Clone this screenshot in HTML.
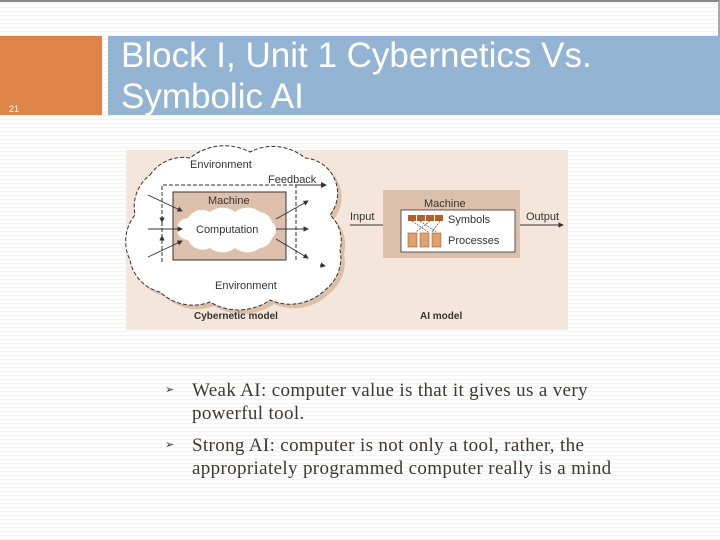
<!DOCTYPE html>
<html><head><style>
body{margin:0;width:720px;height:540px;position:relative;overflow:hidden;background:#fff;
background-image:repeating-linear-gradient(to bottom,#fff 0,#fff 3px,#f3f3f3 3px,#f3f3f3 4px);font-family:"Liberation Sans",sans-serif}
.top{position:absolute;left:0;top:0;width:718px;height:35px;border-top:2px solid #888;border-right:2px solid #aaa}
.or{position:absolute;left:0;top:36px;width:102px;height:79px;background:#df8448}
.num{position:absolute;left:9px;top:104px;font-size:9px;color:#fff}
.bl{position:absolute;left:108px;top:36px;width:612px;height:79px;background:#94b4d4}
.tt{position:absolute;left:121px;top:35px;font-size:35px;line-height:41px;color:#fff}
.b{position:absolute;left:192px;font-family:"Liberation Serif",serif;font-size:19px;letter-spacing:0.35px;line-height:23px;color:#3f3636;white-space:nowrap}
.ar{position:absolute;left:165px;font-size:11px;color:#333}
</style></head><body>
<div class="top"></div>
<div class="or"></div><div class="num">21</div>
<div class="bl"></div>
<div class="tt">Block I, Unit 1 Cybernetics Vs.<br>Symbolic AI</div>
<svg style="position:absolute;left:0;top:0" width="720" height="540" font-family="Liberation Sans,sans-serif">
<defs><marker id="a" markerWidth="6" markerHeight="6" refX="5" refY="3" orient="auto"><path d="M0,0L6,3L0,6z" fill="#333"/></marker></defs>
<rect x="126" y="150" width="442" height="180" fill="#f4e6da"/>
<g transform="translate(4,4)"><path d="M150,175 A40 40 0 0 1 190,158 A55 55 0 0 1 250,152 A50 50 0 0 1 305,158 A35 35 0 0 1 335,180 A35 35 0 0 1 330,215 A35 35 0 0 1 340,250 A40 40 0 0 1 325,290 A50 50 0 0 1 270,300 A55 55 0 0 1 210,302 A48 48 0 0 1 160,292 A40 40 0 0 1 130,260 A42 42 0 0 1 135,215 A40 40 0 0 1 150,175z" fill="#dcbfa8"/></g>
<path d="M150,175 A40 40 0 0 1 190,158 A55 55 0 0 1 250,152 A50 50 0 0 1 305,158 A35 35 0 0 1 335,180 A35 35 0 0 1 330,215 A35 35 0 0 1 340,250 A40 40 0 0 1 325,290 A50 50 0 0 1 270,300 A55 55 0 0 1 210,302 A48 48 0 0 1 160,292 A40 40 0 0 1 130,260 A42 42 0 0 1 135,215 A40 40 0 0 1 150,175z" fill="#fff" stroke="#333" stroke-dasharray="4,2"/>
<rect x="173" y="192" width="113" height="68" fill="#dcc0ac" stroke="#333"/>
<path d="M162,262V185H296V262" fill="none" stroke="#333" stroke-dasharray="4,2"/>
<line x1="296" y1="185" x2="326" y2="185" stroke="#333" marker-end="url(#a)"/>
<path d="M188,218 a16 16 0 0 1 22,-6 a20 20 0 0 1 25,0 a20 20 0 0 1 25,0 a14 14 0 0 1 12,10 a10 10 0 0 1 0,16 a14 14 0 0 1 -12,10 a20 20 0 0 1 -25,0 a20 20 0 0 1 -25,0 a16 16 0 0 1 -22,-8 a10 10 0 0 1 0,-22z" fill="#fff"/>
<g stroke="#333" stroke-width="0.9" marker-end="url(#a)">
<line x1="148" y1="195" x2="182" y2="211"/><line x1="148" y1="229" x2="182" y2="229"/><line x1="148" y1="257" x2="182" y2="241"/>
<line x1="276" y1="219" x2="308" y2="201"/><line x1="276" y1="229" x2="308" y2="229"/><line x1="276" y1="239" x2="308" y2="258"/>
<line x1="162" y1="218" x2="162" y2="222"/><line x1="162" y1="240" x2="162" y2="236"/>
<line x1="320" y1="265" x2="325" y2="266"/>
<line x1="350" y1="225" x2="401" y2="225"/><line x1="515" y1="225" x2="563" y2="225"/>
</g>
<text x="190" y="168" font-size="11" fill="#333">Environment</text>
<text x="268" y="183" font-size="11" fill="#333">Feedback</text>
<text x="208" y="204" font-size="11" fill="#333">Machine</text>
<text x="196" y="233" font-size="11" fill="#333">Computation</text>
<text x="215" y="289" font-size="11" fill="#333">Environment</text>
<rect x="383" y="190" width="137" height="68" fill="#dcc0ac"/>
<rect x="401" y="210" width="114" height="42" fill="#fff" stroke="#333" stroke-width="0.8"/>
<text x="424" y="207" font-size="11" fill="#333">Machine</text>
<text x="350" y="220" font-size="11" fill="#333">Input</text>
<text x="526" y="220" font-size="11" fill="#333">Output</text>
<text x="448" y="223" font-size="11" fill="#333">Symbols</text>
<text x="448" y="244" font-size="11" fill="#333">Processes</text>
<g fill="#b0602a"><rect x="408" y="215" width="8" height="6"/><rect x="417" y="215" width="8" height="6"/><rect x="426" y="215" width="8" height="6"/><rect x="435" y="215" width="8" height="6"/></g>
<g fill="#e0a070" stroke="#a05a28" stroke-width="0.6"><rect x="408" y="233" width="9" height="14"/><rect x="420" y="233" width="9" height="14"/><rect x="432" y="233" width="9" height="14"/></g>
<path d="M412,221L428,232M420,221L436,232M430,221L416,232M440,221L432,232" stroke="#333" stroke-width="0.6" stroke-dasharray="2,1"/>
<text x="194" y="319" font-size="10" font-weight="bold" fill="#333">Cybernetic model</text>
<text x="420" y="319" font-size="10" font-weight="bold" fill="#333">AI model</text>
</svg>
<div class="ar" style="top:383px">➢</div>
<div class="b" style="top:379px">Weak AI: computer value is that it gives us a very<br>powerful tool.</div>
<div class="ar" style="top:438px">➢</div>
<div class="b" style="top:434px">Strong AI: computer is not only a tool, rather, the<br>appropriately programmed computer really is a mind</div>
</body></html>
